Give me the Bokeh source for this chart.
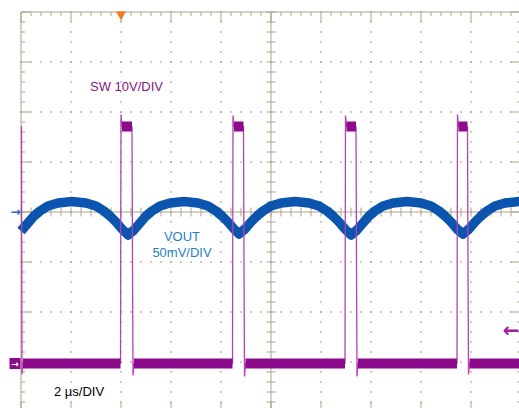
import numpy as np
from bokeh.plotting import figure
from bokeh.models import Range1d, Label
from bokeh.embed import file_html
from bokeh.resources import INLINE

# ---------------- data ----------------
# time axis: microseconds (2 us/div, 10 divisions)
# SW channel (10 V/div), volts
sw_t = [0.00, 0.02, 0.04, 0.08, 3.98, 4.00, 4.04, 4.44, 4.46, 4.48, 4.52,
        8.46, 8.48, 8.52, 8.90, 8.92, 8.94, 8.98,
        12.96, 12.98, 13.02, 13.40, 13.42, 13.44, 13.48,
        17.44, 17.46, 17.50, 17.86, 17.88, 17.90, 17.94, 20.00]
sw_v = [47.4, 47.4, -2.2, 0.0, 0.0, 49.8, 47.4, 47.4, 20.0, -2.4, 0.0,
        0.0, 49.6, 47.4, 47.4, 20.0, -2.6, 0.0,
        0.0, 49.6, 47.4, 47.4, 20.0, -2.6, 0.0,
        0.0, 49.8, 47.4, 47.4, 20.0, -2.2, 0.0, 0.0]

# VOUT channel (50 mV/div, AC coupled), millivolts
vout_t = [0.00, 0.28, 0.52, 0.76, 1.08, 1.48, 2.04, 2.60, 3.00, 3.32, 3.56, 3.80, 4.04, 4.28,
          4.52, 4.76, 5.00, 5.24, 5.56, 5.96, 6.52, 7.08, 7.48, 7.80, 8.04, 8.28, 8.52, 8.72,
          8.96, 9.20, 9.44, 9.68, 10.00, 10.40, 10.96, 11.52, 11.92, 12.24, 12.48, 12.72, 12.96, 13.20,
          13.44, 13.68, 13.92, 14.16, 14.48, 14.88, 15.44, 16.00, 16.40, 16.72, 16.96, 17.20, 17.44, 17.68,
          17.92, 18.16, 18.40, 18.64, 18.96, 19.36, 19.92, 20.00]
vout_mv = [-19, -11, -4, 1, 6, 9, 10.5, 9, 6, 1, -4, -10, -17, -23,
           -18, -11, -4, 1, 6, 9, 10.5, 9, 6, 1, -4, -10, -17, -22,
           -17, -10, -4, 1, 6, 9, 10.5, 9, 6, 1, -4, -10, -17, -23,
           -18, -11, -4, 1, 6, 9, 10.5, 9, 6, 1, -4, -10, -17, -22,
           -17, -10, -4, 1, 6, 9, 10.5, 10.5]

trigger_t = [4.0]          # trigger position (us)
sw_trigger_level = 6.7     # V

sw_labels = ["SW 10V/DIV"]
vout_labels = ["VOUT", "50mV/DIV"]
time_label = "2 \u00b5s/DIV"

# ---------------- scope settings ----------------
us_per_div = 2.0
sw_v_per_div = 10.0
sw_offset_div = -3.03
vout_mv_per_div = 50.0
vout_offset_div = 0.0

PX_X = 25.0    # px per us
PX_Y = 50.0    # px per div
x_full = 10 * us_per_div
x_start = -20.5 / PX_X
x_end = x_start + 519 / PX_X
y_end = 4 + 11.5 / PX_Y
y_start = y_end - 408 / PX_Y


def px_t(px):
    """screen column -> time units (for decorations only)"""
    return x_start + px / PX_X


TAN = "#ACA388"
SW_C = "#8C0A8C"
SW_EDGE = "#B640B6"
BLUE = "#0B55AE"
BLUE_TXT = "#1F7FCC"

p = figure(width=519, height=408, x_range=Range1d(x_start, x_end), y_range=Range1d(y_start, y_end),
           x_axis_type=None, y_axis_type=None, output_backend="svg", toolbar_location=None,
           min_border_left=0, min_border_top=0, min_border_right=0, min_border_bottom=0,
           outline_line_color=None, background_fill_color="white", border_fill_color="white")

p.extra_y_ranges = {
    "sw": Range1d((y_start - sw_offset_div) * sw_v_per_div, (y_end - sw_offset_div) * sw_v_per_div),
    "vout": Range1d((y_start - vout_offset_div) * vout_mv_per_div, (y_end - vout_offset_div) * vout_mv_per_div),
}

xmaj = list(np.arange(0, 20.01, 2.0))
xmin = list(np.round(np.arange(0, 20.01, 0.4), 3))
ymaj = list(np.arange(-4, 4.01, 1.0))
ymin = list(np.round(np.arange(-4, 4.01, 0.2), 3))

# dotted graticule
gdx, gdy = [], []
for gx in [2, 4, 6, 8, 12, 14, 16, 18]:
    for v in ymin:
        gdx.append(gx)
        gdy.append(v)
for gy in [-3, -2, -1, 1, 2, 3]:
    for t in xmin:
        gdx.append(t)
        gdy.append(gy)
p.scatter(gdx, gdy, marker="square", size=1.5, fill_color=TAN, line_color=None)

# border lines and center cross
p.segment([0, 0, 10, 0], [-4, 4, -4, 0], [0, x_full, 10, x_full], [4, 4, 4, 0],
          line_color=TAN, line_width=1)

# ticks: border (inward) and center cross (both sides)
tx0, ty0, tx1, ty1 = [], [], [], []
def tick_h(t, v, l0, l1):
    tx0.append(t + l0 / PX_X); tx1.append(t + l1 / PX_X); ty0.append(v); ty1.append(v)
def tick_v(t, v, l0, l1):
    tx0.append(t); tx1.append(t); ty0.append(v + l0 / PX_Y); ty1.append(v + l1 / PX_Y)

for t in xmin:
    L = 10 if t in xmaj else 4
    tick_v(t, 4, 0, -L)        # top border
    tick_v(t, -4, 0, L)        # bottom border
    tick_v(t, 0, -4.5, 4.5)    # center horizontal line
for v in ymin:
    L = 10 if v in ymaj else 4
    tick_h(0, v, 0, L)         # left border
    tick_h(x_full, v, 0, -L)   # right border
    tick_h(10, v, -4.5, 4.5)   # center vertical line
p.segment(tx0, ty0, tx1, ty1, line_color=TAN, line_width=1)

# VOUT trace
p.line(vout_t, vout_mv, y_range_name="vout", line_width=9.5, line_color=BLUE, line_join="round")

# SW trace: thin edges + thick noisy plateaus
p.line(sw_t, sw_v, y_range_name="sw", line_width=1.3, line_color=SW_EDGE)
x0, y0, x1, y1 = [], [], [], []
for i in range(len(sw_t) - 1):
    if abs(sw_v[i + 1] - sw_v[i]) < 1.0 and sw_t[i + 1] - sw_t[i] > 0.03:
        x0.append(sw_t[i]); y0.append(sw_v[i]); x1.append(sw_t[i + 1]); y1.append(sw_v[i + 1])
p.segment(x0, y0, x1, y1, y_range_name="sw", line_width=10, line_color=SW_C)

# trigger position marker (top)
p.scatter(trigger_t, [4 - 2.5 / PX_Y], marker="inverted_triangle", size=10, fill_color="#F47A1F", line_color=None)

ARROW_FONT = "DejaVu Sans"
# VOUT ground marker (left, blue arrow)
p.add_layout(Label(x=px_t(20), y=0, y_range_name="vout", text="\u2192", text_color="#1E6AC8",
                   text_font=ARROW_FONT, text_font_size="12px", text_font_style="bold",
                   text_baseline="middle", text_align="right"))

# SW ground marker (left, purple block with white arrow)
p.scatter([px_t(14.5)], [0], y_range_name="sw", marker="square", size=11, fill_color=SW_C, line_color=None)
p.add_layout(Label(x=px_t(14.5), y=0, y_range_name="sw", text="\u2192", text_color="white",
                   text_font=ARROW_FONT, text_font_size="9px", text_font_style="bold",
                   text_baseline="middle", text_align="center"))

# SW trigger level marker (right, purple arrow)
p.add_layout(Label(x=x_end, y=sw_trigger_level, y_range_name="sw", text="\u2190", text_color="#A020A0",
                   text_font=ARROW_FONT, text_font_size="20px", text_font_style="bold",
                   text_baseline="middle", text_align="right"))

FONT = "Liberation Sans"
p.add_layout(Label(x=2.76, y=2.52, text=sw_labels[0], text_color="#7E1A80", text_font=FONT,
                   text_font_size="13px", text_baseline="middle", text_align="left"))
p.add_layout(Label(x=6.44, y=-0.48, text=vout_labels[0], text_color=BLUE_TXT, text_font=FONT,
                   text_font_size="13px", text_baseline="middle", text_align="center"))
p.add_layout(Label(x=6.44, y=-0.80, text=vout_labels[1], text_color=BLUE_TXT, text_font=FONT,
                   text_font_size="13px", text_baseline="middle", text_align="center"))
p.add_layout(Label(x=1.32, y=-3.58, text=time_label, text_color="black", text_font=FONT,
                   text_font_size="13px", text_baseline="middle", text_align="left"))

open("out.html", "w").write(file_html(p, INLINE))
